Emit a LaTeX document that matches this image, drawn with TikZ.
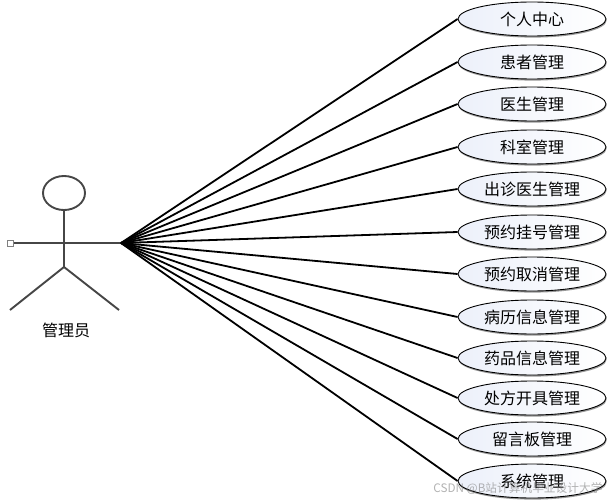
\documentclass[tikz,border=0pt]{standalone}
\usepackage{fontspec}
\usetikzlibrary{shapes.geometric,shadows}
\newfontfamily\cjk{Noto Sans CJK SC}
\definecolor{ucfill}{RGB}{236,240,250}
\definecolor{limb}{RGB}{70,70,70}
\tikzset{
  uc/.style={ellipse,draw=black,line width=0.9pt,minimum width=148pt,minimum height=34pt,inner sep=0pt,
    left color=ucfill,right color=white,font=\cjk\fontsize{16}{16}\selectfont,text=black,
    drop shadow={shadow xshift=0.6pt,shadow yshift=-1.6pt,fill=gray,opacity=0.8}},
  assoc/.style={draw=black,line width=1.8pt},
  actorline/.style={draw=limb,line width=1.9pt},
}
\begin{document}
\begin{tikzpicture}[x=1pt,y=-1pt]
\useasboundingbox (0,0) rectangle (609,500);
\fill[white] (0,0) rectangle (609,500);
\node[ellipse,draw=limb,line width=1.9pt,minimum width=42pt,minimum height=34pt,inner sep=0pt] (head) at (64,193) {};
\coordinate (hub) at (121,243);
\node[draw=gray,fill=white,line width=0.8pt,minimum size=6pt,inner sep=0pt] (hand) at (10.5,243) {};
\coordinate (hip) at (64,267);
\coordinate (lfoot) at (10,310);
\coordinate (rfoot) at (119,310);
\draw[actorline] (head.south) -- (hip);
\draw[actorline] (hand.east) -- (hub);
\draw[actorline] (lfoot) -- (hip) -- (rfoot);
\node[font=\cjk\fontsize{16}{16}\selectfont] (name) at (66,330) {管理员};
\foreach \n/\y/\t in {a/19/个人中心,b/62/患者管理,c/104/医生管理,d/147/科室管理,e/189/出诊医生管理,f/232/预约挂号管理,g/274/预约取消管理,h/317/病历信息管理,i/358/药品信息管理,j/398/处方开具管理,k/439/留言板管理,l/481/系统管理}{
  \node[uc] (\n) at (532,\y) {\t};
  \draw[assoc] (hub) -- (\n.west);
}
\node[font=\cjk\fontsize{11.7}{12}\selectfont,text=gray,opacity=0.6,anchor=east] (mark) at (606,489) {CSDN @B站计算机毕业设计大学};
\end{tikzpicture}
\end{document}
